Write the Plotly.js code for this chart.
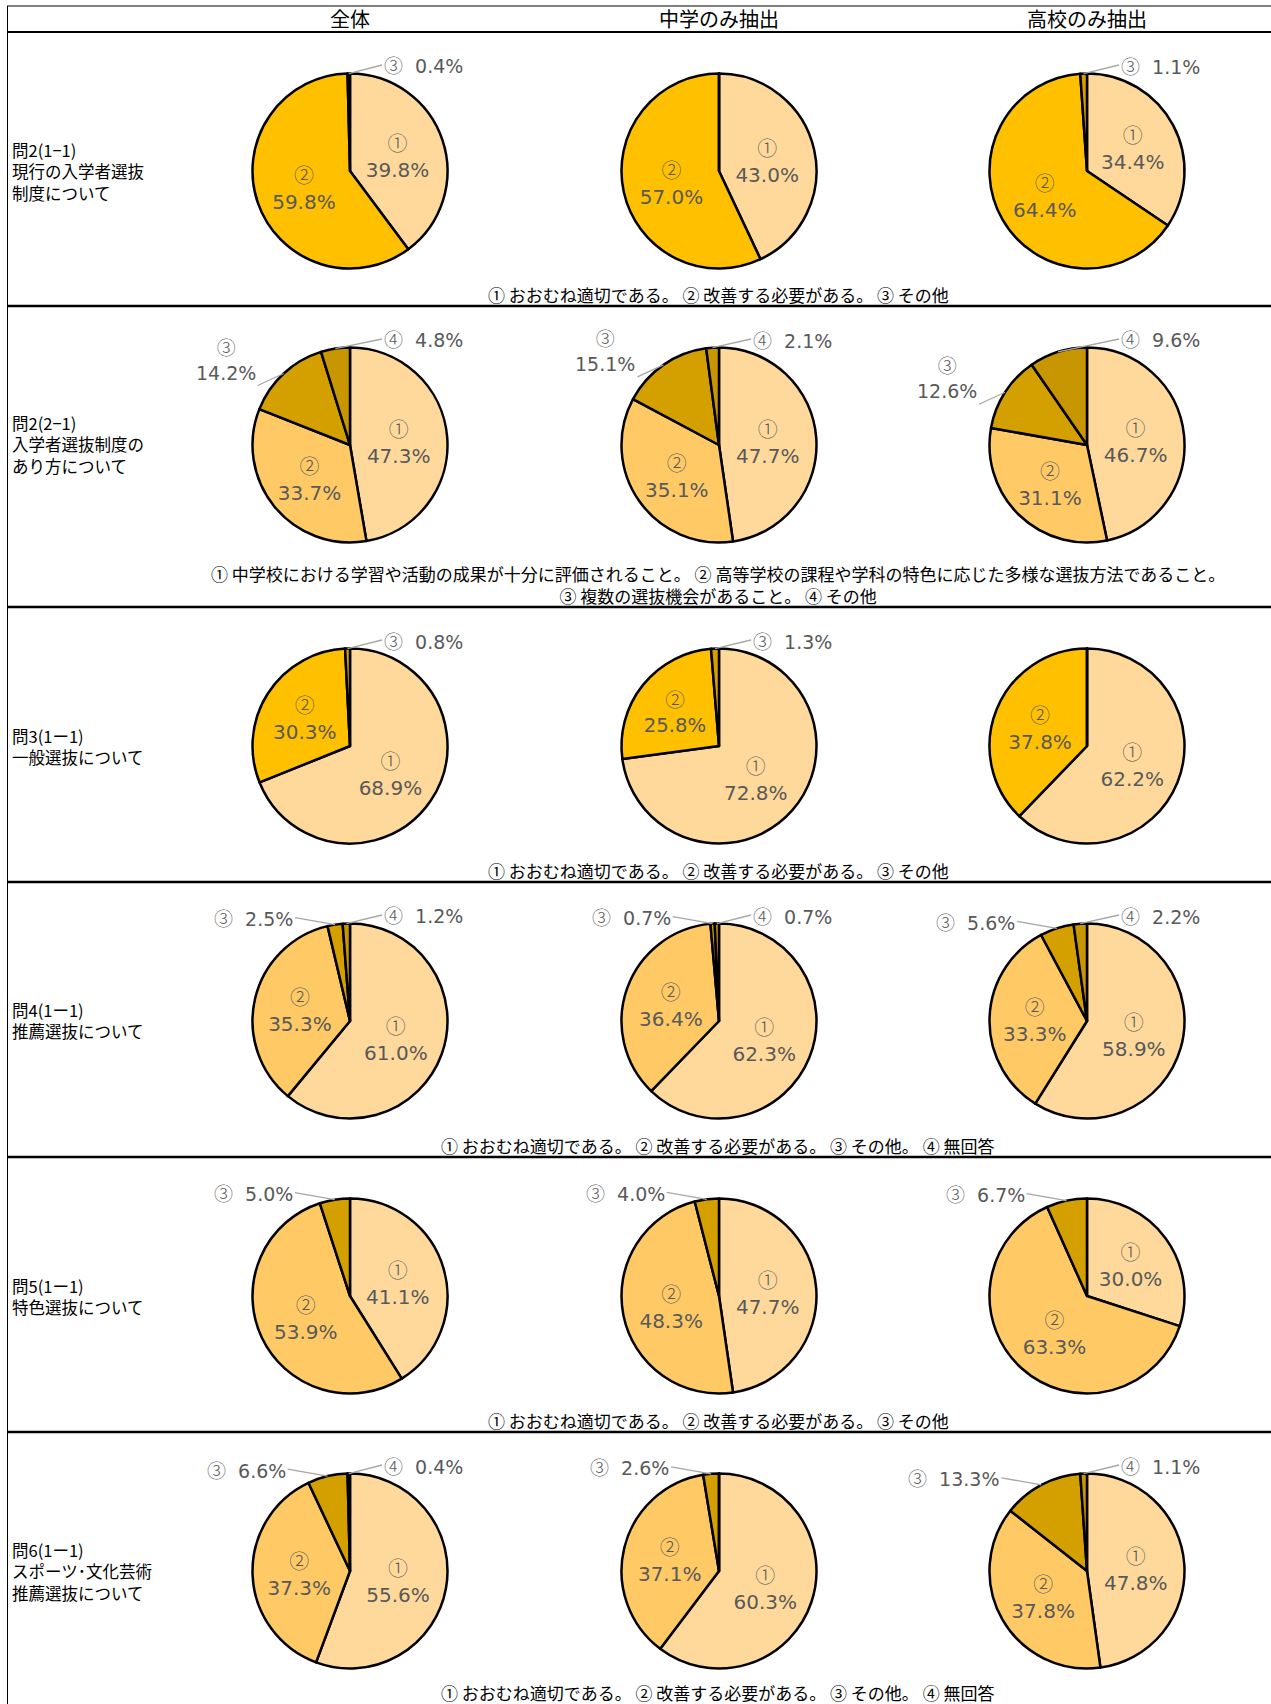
<!DOCTYPE html>
<html><head><meta charset="utf-8">
<script src="https://cdn.plot.ly/plotly-3.0.1.min.js"></script>
<style>html,body{margin:0;padding:0;background:#fff}#chart{width:1271px;height:1704px}</style>
</head><body><div id="chart"></div>
<script>
// ---- data ----
const columns = ['全体', '中学のみ抽出', '高校のみ抽出'];
const categoryMarks = ['①', '②', '③', '④'];
const questionTitles = [
  ['問2(1−1)', '現行の入学者選抜', '制度について'],
  ['問2(2−1)', '入学者選抜制度の', 'あり方について'],
  ['問3(1ー1)', '一般選抜について'],
  ['問4(1ー1)', '推薦選抜について'],
  ['問5(1ー1)', '特色選抜について'],
  ['問6(1ー1)', 'スポーツ･文化芸術', '推薦選抜について']
];
const legendA = ['① おおむね適切である。 ② 改善する必要がある。 ③ その他'];
const legendB = ['① 中学校における学習や活動の成果が十分に評価されること。 ② 高等学校の課程や学科の特色に応じた多様な選抜方法であること。',
                 '③ 複数の選抜機会があること。 ④ その他'];
const legendC = ['① おおむね適切である。 ② 改善する必要がある。 ③ その他。 ④ 無回答'];

// values per column: 全体, 中学のみ抽出, 高校のみ抽出 (percent)
const q2_1 = [[39.8, 59.8, 0.4], [43.0, 57.0, 0.0], [34.4, 64.4, 1.1]];
const q2_2 = [[47.3, 33.7, 14.2, 4.8], [47.7, 35.1, 15.1, 2.1], [46.7, 31.1, 12.6, 9.6]];
const q3_1 = [[68.9, 30.3, 0.8], [72.8, 25.8, 1.3], [62.2, 37.8, 0.0]];
const q4_1 = [[61.0, 35.3, 2.5, 1.2], [62.3, 36.4, 0.7, 0.7], [58.9, 33.3, 5.6, 2.2]];
const q5_1 = [[41.1, 53.9, 5.0], [47.7, 48.3, 4.0], [30.0, 63.3, 6.7]];
const q6_1 = [[55.6, 37.3, 6.6, 0.4], [60.3, 37.1, 2.6, 0.0], [47.8, 37.8, 13.3, 1.1]];

// ---- styles / layout ----
const W = 1271, H = 1704;
const colX = [350, 719, 1087];
const rowTop = [32, 306, 607, 882, 1157, 1432];
const rowBottom = [306, 607, 882, 1157, 1432, 1704];
const R = 97.5;
const px = x => x / W, py = y => 1 - y / H;
const colorsSoft = ['#FFD99B', '#FFCA66', '#D4A000', '#C89600'];
const colorsStrong = ['#FFD99B', '#FFC000', '#D4A000', '#C89600'];
const labelGray = '#595959';
const jpFont = 'Noto Sans CJK JP, sans-serif';
const numFont = 'DejaVu Sans, sans-serif';
const markSpan = m => '<span style="font-family:\'Noto Sans CJK JP\';font-weight:300">' + m + '</span>';

const rows = [
  {title: questionTitles[0], values: q2_1, legend: legendA, colors: colorsStrong, side3: 'right', twoLine: false},
  {title: questionTitles[1], values: q2_2, legend: legendB, colors: colorsSoft, side3: 'left', twoLine: true},
  {title: questionTitles[2], values: q3_1, legend: legendA, colors: colorsStrong, side3: 'right', twoLine: false},
  {title: questionTitles[3], values: q4_1, legend: legendC, colors: colorsSoft, side3: 'left', twoLine: false},
  {title: questionTitles[4], values: q5_1, legend: legendA, colors: colorsSoft, side3: 'left', twoLine: false},
  {title: questionTitles[5], values: q6_1, legend: legendC, colors: colorsSoft, side3: 'left', twoLine: false}
];

const traces = [];
const annotations = [];
const shapes = [];

// frame lines
shapes.push({type: 'line', xref: 'paper', yref: 'paper', x0: px(7), x1: 1, y0: py(6), y1: py(6), line: {color: '#000', width: 1}});
shapes.push({type: 'line', xref: 'paper', yref: 'paper', x0: px(7), x1: 1, y0: py(32), y1: py(32), line: {color: '#000', width: 2}});
shapes.push({type: 'line', xref: 'paper', yref: 'paper', x0: px(7.5), x1: px(7.5), y0: py(6), y1: 0, line: {color: '#000', width: 1}});
rowBottom.slice(0, 5).forEach(y => {
  shapes.push({type: 'line', xref: 'paper', yref: 'paper', x0: px(7), x1: 1, y0: py(y), y1: py(y), line: {color: '#000', width: 2.5}});
});

// column headers
columns.forEach((c, i) => {
  annotations.push({xref: 'paper', yref: 'paper', x: px(colX[i]), y: py(19), text: c, showarrow: false,
    xanchor: 'center', yanchor: 'middle', font: {family: jpFont, size: 20, color: '#000'}});
});

rows.forEach((row, ri) => {
  const cy = rowTop[ri] + 139;
  // row title
  annotations.push({xref: 'paper', yref: 'paper', x: px(10), y: py(cy), text: row.title.join('<br>'),
    showarrow: false, xanchor: 'left', yanchor: 'middle', align: 'left',
    font: {family: jpFont, size: 16.5, color: '#000'}});
  // legend text
  const n = row.legend.length;
  annotations.push({xref: 'paper', yref: 'paper', x: px(718), y: py(rowBottom[ri] - 12 - (n - 1) * 10.5),
    text: row.legend.join('<br>'), showarrow: false, xanchor: 'center', yanchor: 'middle', align: 'center',
    font: {family: jpFont, size: 17, color: '#000'}});

  row.values.forEach((vals, ci) => {
    const cx = colX[ci];
    const text = vals.map((v, k) => k < 2 ? markSpan(categoryMarks[k]) + '<br>' + v.toFixed(1) + '%' : '');
    traces.push({
      type: 'pie', values: vals, labels: vals.map((v, k) => categoryMarks[k]), text: text,
      textinfo: 'text', textposition: 'inside', insidetextorientation: 'horizontal',
      sort: false, direction: 'clockwise', rotation: 0,
      marker: {colors: row.colors.slice(0, vals.length), line: {color: '#000', width: 2.5}},
      insidetextfont: {family: numFont, size: 20, color: labelGray},
      domain: {x: [px(cx - R), px(cx + R)], y: [py(cy + R), py(cy - R)]},
      hoverinfo: 'skip', showlegend: false
    });
    // outside labels with leader lines for small slices
    const total = vals.reduce((a, b) => a + b, 0);
    let cum = 0;
    vals.forEach((v, k) => {
      const mid = (cum + v / 2) / total * 2 * Math.PI;
      cum += v;
      if (k < 2 || v <= 0) return;
      const tipX = cx + R * Math.sin(mid);
      const tipY = cy - R * Math.cos(mid);
      const side = k === 3 ? 'right' : row.side3;
      const pct = v.toFixed(1) + '%';
      let ax, ay, xanchor, yanchor = 'middle', txt;
      if (side === 'right') {
        ax = cx + 32 - tipX; ay = cy - 106 - tipY; xanchor = 'left';
        txt = markSpan(categoryMarks[k]) + '\u00a0\u00a0' + pct;
      } else if (row.twoLine) {
        ax = -26; ay = 12; xanchor = 'right'; yanchor = 'bottom';
        txt = markSpan(categoryMarks[k]) + '<br>' + pct;
      } else {
        ax = -40; ay = -7; xanchor = 'right';
        txt = markSpan(categoryMarks[k]) + '\u00a0\u00a0' + pct;
      }
      annotations.push({xref: 'paper', yref: 'paper', x: px(tipX), y: py(tipY), ax: ax, ay: ay,
        text: txt, showarrow: true, arrowhead: 0, arrowwidth: 1.3, arrowcolor: '#A6A6A6', standoff: 0,
        xanchor: xanchor, yanchor: yanchor, align: 'center',
        font: {family: numFont, size: 19, color: labelGray}});
    });
  });
});

Plotly.newPlot('chart', traces, {
  width: W, height: H, margin: {l: 0, r: 0, t: 0, b: 0},
  paper_bgcolor: '#fff', plot_bgcolor: '#fff', showlegend: false,
  shapes: shapes, annotations: annotations
}, {displayModeBar: false, staticPlot: true});
</script></body></html>
